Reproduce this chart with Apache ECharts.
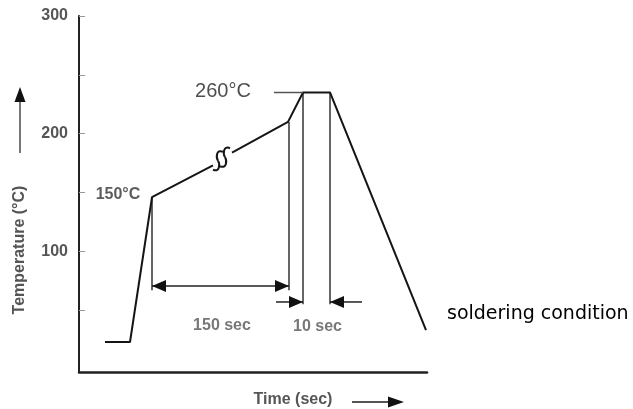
<!DOCTYPE html>
<html><head><meta charset="utf-8">
<script src="https://cdn.jsdelivr.net/npm/echarts@6/dist/echarts.min.js"></script>
<style>html,body{margin:0;padding:0;background:#fff}#c{width:633px;height:409px}</style>
</head><body><div id="c"></div>
<script>
// Schematic soldering profile: time in arbitrary units, temperature in °C as drawn
const rampTime = [26, 51, 73, 134];
const rampTemp = [23, 23, 146, 173];
const peakTime = [153, 209, 224, 251, 347];
const peakTemp = [184, 210, 235, 235, 33];
const breakTime = [139, 146];
const breakTemp = [177, 180];
const levelTime = [195, 224];
const levelTemp = [235, 235];
const guideTime = [73, 210, 224, 251];
const guideTop = [146, 210, 235, 235];
const guideBottom = [67, 67, 55, 55];
const arrowFrom = [73, 197, 283];
const arrowTo = [210, 224, 251];
const arrowTemp = [70.6, 57, 57];
const arrowBothEnds = [true, false, false];
const labelTexts = ['150°C', '260°C', '150 sec', '10 sec'];
const labelTime = [39, 144, 143, 238.5];
const labelTemp = [148, 236, 37, 36.5];
const yTickValues = [50, 100, 150, 200, 250, 300];
const yLabelValues = [100, 200, 300];
const yAxisName = 'Temperature (°C)';
const xAxisName = 'Time (sec)';
const caption = 'soldering condition';

const zip = (a, b) => a.map((v, i) => [v, b[i]]);
const LINE = '#151515';
const FONT = '"Liberation Sans", Arial, sans-serif';

const labelStyles = [
  {fontSize: 16, color: '#333', fontWeight: 'bold'},
  {fontSize: 20, color: '#222', fontWeight: 'normal'},
  {fontSize: 16, color: '#555', fontWeight: 'bold'},
  {fontSize: 16, color: '#555', fontWeight: 'bold'}
];

const chart = echarts.init(document.getElementById('c'), null, {renderer: 'canvas'});
chart.setOption({
  animation: false,
  backgroundColor: '#fff',
  grid: {left: 79, right: 206, top: 16, bottom: 37},
  xAxis: {
    type: 'value', min: 0, max: 348,
    axisLine: {onZero: false, lineStyle: {color: '#222', width: 2.5}},
    axisTick: {show: false}, axisLabel: {show: false}, splitLine: {show: false}
  },
  yAxis: {
    type: 'value', min: -2.5, max: 300,
    axisLine: {show: true, onZero: false, lineStyle: {color: '#222', width: 2}},
    axisTick: {show: true, inside: true, length: 6, customValues: yTickValues, lineStyle: {color: '#999', width: 1}},
    axisLabel: {customValues: yLabelValues, margin: 11, color: '#555', fontSize: 16, fontWeight: 'bold', fontFamily: FONT},
    splitLine: {show: false}
  },
  series: [
    {type: 'line', data: zip(rampTime, rampTemp), symbol: 'none', lineStyle: {color: LINE, width: 2}},
    {type: 'line', data: zip(peakTime, peakTemp), symbol: 'none', lineStyle: {color: LINE, width: 2}},
    {type: 'line', data: zip(levelTime, levelTemp), symbol: 'none', lineStyle: {color: '#555', width: 1.5}},
    {
      type: 'custom', data: guideTime.map((t, i) => [t, guideTop[i], guideBottom[i]]),
      renderItem: (params, api) => {
        const a = api.coord([api.value(0), api.value(1)]);
        const b = api.coord([api.value(0), api.value(2)]);
        return {type: 'line', shape: {x1: a[0], y1: a[1], x2: b[0], y2: b[1]}, style: {stroke: '#333', lineWidth: 1.5}};
      }
    },
    {
      type: 'custom', data: zip(breakTime, breakTemp),
      renderItem: (params, api) => {
        const c = api.coord([api.value(0), api.value(1)]);
        const cx = c[0], cy = c[1];
        const st = {stroke: LINE, lineWidth: 2, fill: null};
        return {type: 'group', children: [
          {type: 'bezierCurve', shape: {x1: cx + 5, y1: cy - 9, cpx1: cx - 2, cpy1: cy - 12, cpx2: cx - 2, cpy2: cy - 3, x2: cx, y2: cy}, style: st},
          {type: 'bezierCurve', shape: {x1: cx, y1: cy, cpx1: cx + 2, cpy1: cy + 3, cpx2: cx + 2, cpy2: cy + 12, x2: cx - 5, y2: cy + 9}, style: st}
        ]};
      }
    },
    {
      type: 'custom', data: arrowFrom.map((f, i) => [f, arrowTo[i], arrowTemp[i], arrowBothEnds[i] ? 1 : 0]),
      renderItem: (params, api) => {
        const p1 = api.coord([api.value(0), api.value(2)]);
        const p2 = api.coord([api.value(1), api.value(2)]);
        const both = api.value(3) === 1;
        const dir = p2[0] > p1[0] ? 1 : -1;
        const L = 14, H = 6;
        const head = (tip, d) => ({type: 'polygon', shape: {points: [[tip[0], tip[1]], [tip[0] - d * L, tip[1] - H], [tip[0] - d * L, tip[1] + H]]}, style: {fill: '#111'}});
        const children = [
          {type: 'line', shape: {x1: p1[0], y1: p1[1], x2: p2[0], y2: p2[1]}, style: {stroke: '#222', lineWidth: 1.5}},
          head(p2, dir)
        ];
        if (both) children.push(head(p1, -dir));
        return {type: 'group', children};
      }
    },
    {
      type: 'scatter', symbolSize: 1, itemStyle: {color: 'rgba(0,0,0,0)'},
      data: labelTexts.map((t, i) => ({
        name: t, value: [labelTime[i], labelTemp[i]],
        label: {show: true, position: 'inside', formatter: '{b}', fontFamily: FONT,
                fontSize: labelStyles[i].fontSize, fontWeight: labelStyles[i].fontWeight, color: labelStyles[i].color}
      }))
    }
  ],
  graphic: [
    {type: 'line', shape: {x1: 20, y1: 153, x2: 20, y2: 100}, style: {stroke: '#777', lineWidth: 2}},
    {type: 'polygon', shape: {points: [[20, 87], [14.5, 102], [25.5, 102]]}, style: {fill: '#111'}},
    {type: 'text', x: 20, y: 250, rotation: Math.PI / 2,
     style: {text: yAxisName, font: 'bold 16px ' + FONT, fill: '#555', align: 'center', verticalAlign: 'middle'}},
    {type: 'text', x: 293, y: 400,
     style: {text: xAxisName, font: 'bold 16px ' + FONT, fill: '#555', align: 'center', verticalAlign: 'middle'}},
    {type: 'line', shape: {x1: 352, y1: 402, x2: 392, y2: 402}, style: {stroke: '#555', lineWidth: 2}},
    {type: 'polygon', shape: {points: [[404, 402], [388, 396.5], [388, 407.5]]}, style: {fill: '#111'}},
    {type: 'text', x: 447, y: 314,
     style: {text: caption, font: '19px "DejaVu Sans", sans-serif', fill: '#000', align: 'left', verticalAlign: 'middle'}}
  ]
});
</script></body></html>
